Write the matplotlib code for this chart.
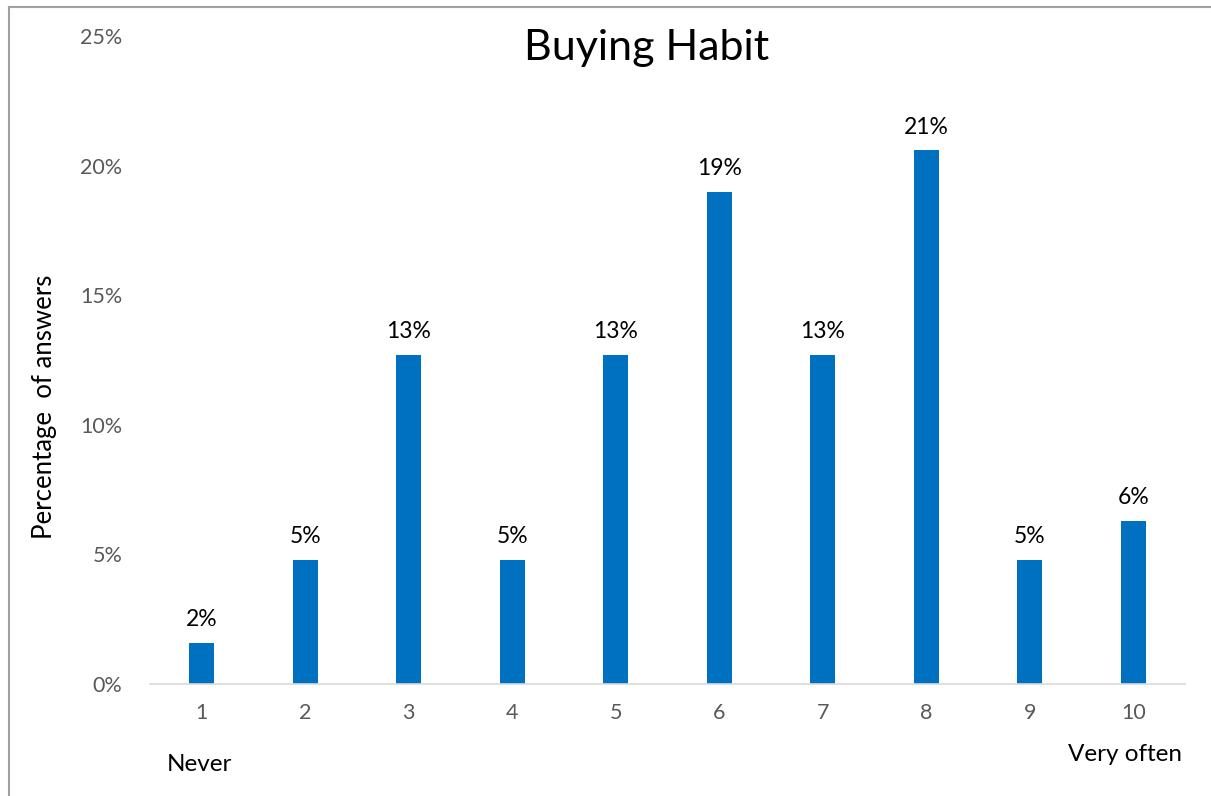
import numpy as np
import matplotlib.pyplot as plt
from matplotlib.lines import Line2D
from matplotlib.ticker import PercentFormatter

plt.rcParams['font.family'] = ['Lato', 'DejaVu Sans']

categories = ['1', '2', '3', '4', '5', '6', '7', '8', '9', '10']
shares = [1.6, 4.8, 12.7, 4.8, 12.7, 19.0, 12.7, 20.6, 4.8, 6.3]
labels = ['2%', '5%', '13%', '5%', '13%', '19%', '13%', '21%', '5%', '6%']

fig = plt.figure(figsize=(12.11, 7.96), dpi=100)
ax = fig.add_axes([0.1239, 0.1407, 0.8546, 0.8141])

x = np.arange(1, len(categories) + 1)
bars = ax.bar(x, shares, width=0.245, color='#0070C0', zorder=2)
for b, lab in zip(bars, labels):
    ax.annotate(lab, (b.get_x() + b.get_width() / 2, b.get_height()),
                xytext=(0, 9), textcoords='offset points',
                ha='center', va='bottom', fontsize=16.5, color='black')

ax.set_xlim(0.5, 10.5)
ax.set_ylim(0, 25)
ax.set_yticks(np.arange(0, 26, 5))
ax.yaxis.set_major_formatter(PercentFormatter(decimals=0))
ax.set_xticks(x)
ax.set_xticklabels(categories)
ax.tick_params(axis='both', length=0, labelsize=15.5, colors='#595959', pad=14)
ax.tick_params(axis='y', pad=20)
for s in ['top', 'right', 'left']:
    ax.spines[s].set_visible(False)
ax.spines['bottom'].set_color('#D9D9D9')
ax.spines['bottom'].set_linewidth(1.2)

fig.text(45 / 1211, 1 - 407 / 796, 'Percentage  of answers', rotation=90,
         ha='center', va='center', fontsize=18.5, color='black')
fig.text(0.534, 0.94, 'Buying Habit', ha='center', va='center', fontsize=31)
fig.text(0.165, 0.04, 'Never', ha='center', va='center', fontsize=17.5)
fig.text(0.929, 0.052, 'Very often', ha='center', va='center', fontsize=17.5)

# outer chart frame (only top and left edges visible)
fig.add_artist(Line2D([9 / 1211, 9 / 1211], [0, 1 - 7 / 796],
                      transform=fig.transFigure, color='#A0A0A0', lw=1.5))
fig.add_artist(Line2D([9 / 1211, 1], [1 - 7 / 796, 1 - 7 / 796],
                      transform=fig.transFigure, color='#A0A0A0', lw=1.5))

fig.savefig('out.png', dpi=100)
